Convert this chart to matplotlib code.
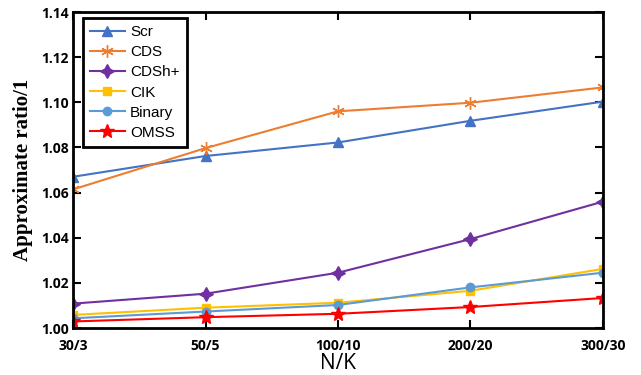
import numpy as np
import matplotlib
matplotlib.use('Agg')
import matplotlib.pyplot as plt

categories = ['30/3', '50/5', '100/10', '200/20', '300/30']

scr = [1.067, 1.0762, 1.0822, 1.0918, 1.1003]
cds = [1.0614, 1.0797, 1.0960, 1.0998, 1.1066]
cdsh = [1.0108, 1.0152, 1.0245, 1.0394, 1.0560]
cik = [1.0058, 1.0090, 1.0112, 1.0165, 1.0262]
binary = [1.0043, 1.0073, 1.0102, 1.0180, 1.0245]
omss = [1.0029, 1.0048, 1.0063, 1.0093, 1.0133]

series = [
    ('Scr', scr, '#4472C4', '^', 7),
    ('CDS', cds, '#ED7D31', (6, 2, 0), 9),
    ('CDSh+', cdsh, '#7030A0', (4, 1, 0), 10),
    ('CIK', cik, '#FFC000', 's', 6),
    ('Binary', binary, '#5B9BD5', 'o', 6),
    ('OMSS', omss, '#FF0000', '*', 10),
]

fig = plt.figure(figsize=(6.41, 3.75), dpi=100)
ax = fig.add_axes([0.1139, 0.1253, 0.8268, 0.8427])

x = np.arange(len(categories))
for name, vals, col, mk, ms in series:
    ax.plot(x, vals, color=col, marker=mk, markersize=ms, linewidth=1.5,
            label=name)

ax.set_xlim(0, len(categories) - 1)
ax.set_ylim(1.0, 1.14)
ax.set_yticks(np.arange(1.0, 1.141, 0.02))
ax.set_yticklabels(['%.2f' % v for v in np.arange(1.0, 1.141, 0.02)])
ax.set_xticks(x)
ax.set_xticklabels(categories)

for s in ax.spines.values():
    s.set_linewidth(2)
ax.tick_params(direction='in', top=True, right=True, length=6, width=1.5,
               labelsize=10, pad=8)
for lab in ax.get_xticklabels() + ax.get_yticklabels():
    lab.set_fontweight('bold')
    lab.set_family('Open Sans')
ax.tick_params(axis='y', pad=3)

ax.set_xlabel('N/K', fontsize=15, family='Open Sans', labelpad=0)
ax.set_ylabel('Approximate ratio/1', fontsize=15, fontweight='bold',
              family='Liberation Serif', labelpad=6)

leg = ax.legend(loc='upper left', bbox_to_anchor=(0.004, 1.004),
                fancybox=False, framealpha=1, edgecolor='black',
                handlelength=2.3, borderpad=0.45, labelspacing=0.4,
                handletextpad=0.35, prop={'family': 'Liberation Sans', 'size': 11})
leg.get_frame().set_linewidth(2)

fig.savefig('out.png', dpi=100)
